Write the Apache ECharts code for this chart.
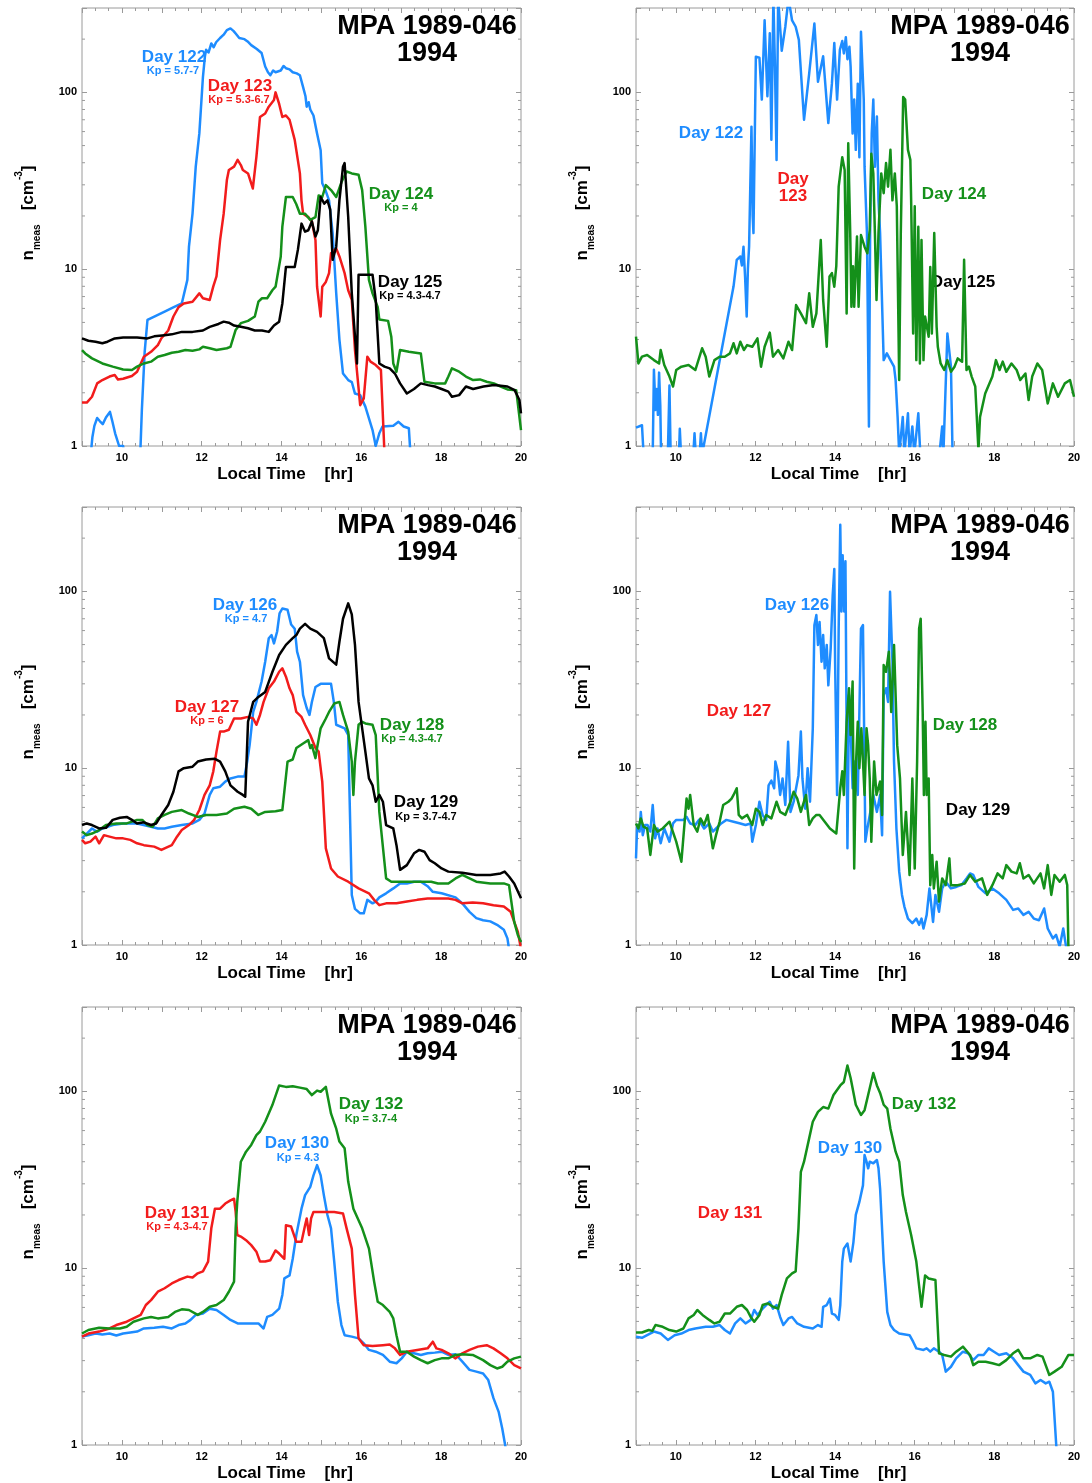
<!DOCTYPE html>
<html>
<head>
<meta charset="utf-8">
<script src="https://cdn.jsdelivr.net/npm/echarts@6/dist/echarts.min.js"></script>
<style>
  html, body { margin: 0; padding: 0; background: #ffffff; }
  #chart { width: 1092px; height: 1483px; }
</style>
</head>
<body>
<div id="chart"></div>
<script>
// ---- Axis settings ----
const X_MIN = 9, X_MAX = 20;
const Y_MIN = 1, Y_MAX = 300;
const Y_LABELS = [1, 10, 100];
const Y_MINOR_TICKS = [2, 3, 4, 5, 6, 7, 8, 9, 20, 30, 40, 50, 60, 70, 80, 90, 200];

// ---- Measured density [cm^-3] vs local time [hr], pairs [hour, n] ----
// Days 122-125, smoothed
const day122_smooth = [[9.22,0.9],[9.26,1.12],[9.31,1.3],[9.38,1.44],[9.45,1.38],[9.52,1.33],[9.6,1.45],[9.7,1.56],[9.76,1.38],[9.83,1.18],[9.93,1.0],[10.03,1.0],[10.06,0.9],[10.25,'-'],
  [10.46,0.9],[10.5,1.6],[10.57,3.4],[10.64,5.16],[10.85,5.45],[11.07,5.75],[11.3,6.1],[11.5,6.4],[11.64,8.7],[11.68,13.4],[11.77,20.7],[11.85,38],[11.94,58.6],[12.03,122],[12.08,160],[12.11,174],[12.17,168],[12.24,189],[12.3,180],[12.36,192],[12.46,203],[12.55,212],[12.63,225],[12.72,230],[12.8,222],[12.85,215],[12.94,203],[13.07,200],[13.15,194],[13.24,185],[13.38,176],[13.5,167],[13.59,140],[13.66,130],[13.72,125],[13.79,133],[13.85,130],[13.98,133],[14.05,141],[14.11,137],[14.2,135],[14.28,130],[14.38,128],[14.46,125],[14.54,107],[14.6,95],[14.63,83],[14.68,88],[14.72,80],[14.8,74],[14.89,58.6],[14.98,47],[15.02,30.6],[15.1,28],[15.19,24.5],[15.28,16],[15.37,7.3],[15.45,4],[15.54,2.57],[15.67,2.36],[15.76,2.3],[15.84,1.98],[15.97,1.94],[16.1,1.67],[16.28,1.23],[16.36,1.0],[16.45,1.18],[16.53,1.29],[16.8,1.3],[16.93,1.37],[17.06,1.29],[17.19,1.26],[17.23,0.9]];

const day123_smooth = [[9.0,1.76],[9.12,1.76],[9.25,1.9],[9.38,2.26],[9.51,2.36],[9.69,2.47],[9.82,2.52],[9.9,2.38],[10.03,2.4],[10.25,2.49],[10.38,2.63],[10.55,3.2],[10.73,3.41],[10.9,3.72],[10.99,4.07],[11.16,4.5],[11.29,5.4],[11.42,6.1],[11.55,6.4],[11.77,6.55],[11.94,7.3],[12.03,6.85],[12.2,6.7],[12.29,8.0],[12.37,9.1],[12.46,14.6],[12.55,20.6],[12.63,31.9],[12.68,36.4],[12.81,38],[12.9,41.5],[12.98,38.8],[13.03,36.4],[13.16,34.8],[13.28,28.6],[13.37,43.2],[13.46,72.6],[13.59,75.9],[13.68,83],[13.81,90.5],[13.85,100],[13.94,86],[14.02,72.6],[14.11,74],[14.2,70],[14.33,53.9],[14.46,34.8],[14.5,24.5],[14.54,20.6],[14.67,19.7],[14.76,18.6],[14.85,14.6],[14.89,7.96],[14.98,5.4],[15.02,7.96],[15.11,8.47],[15.19,9.5],[15.24,12.3],[15.37,13.1],[15.45,11.8],[15.58,9.5],[15.67,7.6],[15.76,6.7],[15.84,3.49],[15.97,1.7],[16.06,1.86],[16.15,3.2],[16.23,3.0],[16.36,2.87],[16.49,2.69],[16.58,0.9]];

const day124_smooth = [[9.0,3.49],[9.08,3.34],[9.25,3.13],[9.51,2.93],[9.77,2.81],[10.03,2.71],[10.25,2.69],[10.38,2.81],[10.55,2.93],[10.73,3.0],[10.9,3.2],[11.07,3.27],[11.25,3.37],[11.42,3.41],[11.59,3.49],[11.77,3.46],[11.94,3.52],[12.03,3.64],[12.2,3.57],[12.37,3.49],[12.63,3.57],[12.72,3.64],[12.85,4.53],[12.98,4.95],[13.16,5.1],[13.33,5.4],[13.42,6.55],[13.51,6.85],[13.64,6.85],[13.77,7.6],[13.85,7.96],[13.98,11.8],[14.02,17.4],[14.11,25.6],[14.28,25.6],[14.37,23.3],[14.46,20.6],[14.59,20.6],[14.72,19],[14.85,19.7],[14.93,26.1],[15.02,25.6],[15.11,29.9],[15.24,28],[15.37,25.6],[15.5,31],[15.63,35.7],[15.76,34.8],[15.93,34.2],[16.02,28],[16.1,17.4],[16.19,8.7],[16.28,7.3],[16.41,6.1],[16.45,5.2],[16.67,5.1],[16.75,4.15],[16.8,2.93],[16.88,2.63],[16.97,3.49],[17.19,3.41],[17.49,3.34],[17.58,2.31],[17.84,2.26],[18.1,2.26],[18.18,2.47],[18.27,2.75],[18.45,2.63],[18.62,2.47],[18.8,2.36],[18.97,2.38],[19.14,2.31],[19.32,2.26],[19.49,2.17],[19.66,2.09],[19.88,2.07],[20.0,1.23]];

const day125_smooth = [[9.0,4.06],[9.16,3.94],[9.34,3.89],[9.51,3.81],[9.64,3.89],[9.82,4.06],[10.03,4.11],[10.38,4.11],[10.64,4.06],[10.81,4.17],[11.07,4.23],[11.25,4.28],[11.5,4.42],[11.77,4.42],[12.03,4.5],[12.2,4.72],[12.42,4.9],[12.55,5.05],[12.68,4.98],[12.81,4.8],[12.98,4.72],[13.16,4.63],[13.33,4.5],[13.51,4.5],[13.68,4.42],[13.81,4.8],[13.94,5.05],[14.02,6.4],[14.11,10.3],[14.33,10.3],[14.41,12.9],[14.5,18.1],[14.59,16.3],[14.67,16.6],[14.76,18.6],[14.85,15.3],[14.91,16.6],[14.98,25.6],[15.07,23.5],[15.15,24.5],[15.22,21.7],[15.28,11.3],[15.37,13.4],[15.45,24.5],[15.54,38],[15.58,39.8],[15.67,19.8],[15.76,7.3],[15.89,2.93],[15.93,9.3],[16.28,9.3],[16.36,6.7],[16.45,2.93],[16.58,2.81],[16.71,2.75],[16.84,2.57],[16.97,2.26],[17.14,1.98],[17.32,2.1],[17.49,2.26],[17.67,2.21],[17.84,2.17],[18.01,2.1],[18.18,2.03],[18.27,1.9],[18.45,1.94],[18.62,2.17],[18.8,2.1],[19.06,2.17],[19.32,2.21],[19.49,2.19],[19.66,2.17],[19.84,2.07],[19.96,1.82],[20.0,1.53]];

// Days 122 and 124, full resolution
const day122_raw = [[9.0,1.27],[9.15,1.31],[9.19,0.9],[9.3,'-'],[9.42,0.9],[9.45,2.7],[9.49,1.6],[9.52,2.1],[9.55,1.5],[9.58,2.6],[9.61,1.7],[9.63,0.9],[9.7,'-'],[9.8,0.9],[9.84,2.2],[9.87,0.9],[9.95,'-'],[10.08,0.9],[10.1,1.25],[10.13,0.9],[10.3,'-'],[10.44,0.9],[10.47,1.18],[10.5,0.9],[10.55,'-'],[10.6,0.9],[10.63,1.18],[10.66,0.9],[10.7,1.0],
  [11.45,8.0],[11.53,11.3],[11.62,11.8],[11.66,10.5],[11.7,13.4],[11.74,9],[11.78,5.4],[11.81,10],[11.84,13.4],[11.88,38],[11.9,64],[11.93,20],[11.95,16],[12.01,159],[12.1,157],[12.16,91],[12.23,256],[12.3,95],[12.36,216],[12.4,54],[12.45,340],[12.49,140],[12.53,41.5],[12.57,340],[12.66,172],[12.75,235],[12.83,340],[12.92,255],[13.01,235],[13.09,198],[13.22,70],[13.35,128],[13.48,245],[13.57,115],[13.7,160],[13.83,67],[13.92,112],[13.98,190],[14.05,91],[14.12,174],[14.18,195],[14.22,166],[14.27,205],[14.31,154],[14.36,181],[14.39,140],[14.44,58.6],[14.48,91],[14.52,47.3],[14.57,112],[14.61,43],[14.65,220],[14.72,91],[14.74,38],[14.8,16],[14.85,1.29],[14.88,16],[14.92,58.6],[14.96,91],[15.0,38],[15.05,73],[15.09,24.5],[15.13,16],[15.22,3.06],[15.3,3.34],[15.39,3.06],[15.48,2.81],[15.52,2.36],[15.57,1.46],[15.61,0.9],[15.7,1.46],[15.74,0.9],[15.83,1.53],[15.87,0.9],[15.94,1.29],[15.99,0.9],[16.09,1.53],[16.14,0.9],[16.4,'-'],[16.62,0.9],[16.69,1.29],[16.72,0.9],[16.82,4.33],[16.91,2.81],[16.95,0.9]];

const day124_raw = [[9.0,4.15],[9.06,2.93],[9.15,3.2],[9.28,3.27],[9.45,3.06],[9.58,2.93],[9.62,3.49],[9.71,2.87],[9.84,2.47],[9.93,2.17],[10.01,2.69],[10.14,2.81],[10.32,2.87],[10.49,2.69],[10.66,3.57],[10.75,3.2],[10.84,2.47],[10.97,3.06],[11.1,3.2],[11.23,3.2],[11.36,3.34],[11.45,3.81],[11.53,3.34],[11.62,3.89],[11.71,3.49],[11.79,3.72],[11.92,3.64],[12.05,4.06],[12.14,2.81],[12.23,3.64],[12.36,4.38],[12.44,3.2],[12.57,3.49],[12.7,3.13],[12.83,3.89],[12.92,3.49],[13.02,6.27],[13.14,5.62],[13.27,4.95],[13.35,7.3],[13.44,4.72],[13.53,5.62],[13.64,14.6],[13.7,6.7],[13.79,3.64],[13.86,9.1],[13.92,9.5],[13.98,7.96],[14.03,10.4],[14.09,29.3],[14.18,43],[14.24,36.4],[14.29,5.62],[14.33,51.5],[14.38,16],[14.41,6.13],[14.45,10.4],[14.48,6.13],[14.55,15.3],[14.59,6.13],[14.65,15.6],[14.74,13.4],[14.81,12.3],[14.87,16.7],[14.91,44.9],[14.96,34.8],[15.0,16],[15.04,6.7],[15.09,16],[15.16,34.8],[15.22,26.9],[15.28,39.8],[15.33,29.3],[15.39,47.3],[15.44,24.5],[15.5,34.8],[15.55,22.7],[15.61,2.36],[15.65,16],[15.71,94],[15.76,91],[15.83,47.3],[15.89,41.5],[15.91,24.5],[15.96,4.33],[16.0,22.7],[16.04,3.06],[16.09,17.4],[16.13,2.93],[16.17,14.6],[16.22,3.06],[16.26,5.4],[16.35,4.15],[16.39,10.3],[16.43,4.33],[16.49,16],[16.55,4.72],[16.58,3.64],[16.65,2.93],[16.74,2.69],[16.82,3.06],[16.91,2.63],[17.0,2.81],[17.08,3.13],[17.19,3.0],[17.24,11.3],[17.3,2.69],[17.36,2.81],[17.43,2.47],[17.52,2.17],[17.6,0.95],[17.64,1.46],[17.77,1.98],[17.95,2.47],[18.04,3.06],[18.13,2.69],[18.21,3.0],[18.3,2.63],[18.43,2.93],[18.56,2.69],[18.65,2.36],[18.78,2.57],[18.86,1.82],[18.95,2.47],[19.08,2.93],[19.2,2.69],[19.34,1.74],[19.47,2.26],[19.6,1.9],[19.77,2.26],[19.9,2.36],[20.0,1.9]];

// Days 126-129, smoothed
const day126_smooth = [[9.0,4.01],[9.12,4.27],[9.25,4.56],[9.38,4.37],[9.51,4.56],[9.77,4.77],[10.03,4.87],[10.38,4.87],[10.73,4.66],[10.9,4.56],[11.07,4.56],[11.25,4.66],[11.5,4.77],[11.77,4.87],[11.94,5.1],[12.07,5.54],[12.2,7.06],[12.29,7.7],[12.46,7.86],[12.59,8.4],[12.72,8.75],[12.9,8.96],[13.07,8.96],[13.14,10.9],[13.2,13.5],[13.29,20.8],[13.37,23.7],[13.5,30.9],[13.59,40],[13.68,54.3],[13.75,56.6],[13.81,50.8],[13.89,59.3],[13.95,75.1],[14.02,80],[14.15,78.7],[14.24,65],[14.33,61.5],[14.39,45.6],[14.46,40],[14.54,25.9],[14.63,21.9],[14.7,20],[14.76,23.7],[14.85,28.8],[14.98,30],[15.24,30],[15.31,23.7],[15.37,17.6],[15.58,16.8],[15.67,15.4],[15.76,1.92],[15.84,1.6],[15.97,1.51],[16.06,1.51],[16.15,1.8],[16.28,1.72],[16.36,1.76],[16.45,1.86],[16.62,1.96],[16.8,2.09],[16.97,2.23],[17.14,2.23],[17.32,2.28],[17.49,2.28],[17.66,2.15],[17.79,2.0],[18.01,1.96],[18.36,1.86],[18.53,1.72],[18.71,1.54],[18.88,1.42],[19.05,1.38],[19.23,1.36],[19.4,1.3],[19.57,1.22],[19.66,1.09],[19.7,0.95]];

const day127_smooth = [[9.0,3.93],[9.08,3.76],[9.21,3.84],[9.34,4.1],[9.43,3.76],[9.55,4.18],[9.69,4.1],[9.86,4.01],[10.03,4.01],[10.21,3.93],[10.38,3.76],[10.55,3.67],[10.81,3.6],[10.99,3.45],[11.07,3.52],[11.25,3.67],[11.38,4.1],[11.5,4.47],[11.68,4.77],[11.81,5.1],[11.94,5.8],[12.07,7.06],[12.2,8.0],[12.29,9.6],[12.37,12.4],[12.46,16.1],[12.55,16.1],[12.68,16.5],[12.81,19.1],[12.98,19.1],[13.16,19.5],[13.29,19.1],[13.37,17.6],[13.46,20],[13.55,23.7],[13.68,28.3],[13.81,30.9],[13.94,35.1],[14.02,36.7],[14.11,32.9],[14.2,28.3],[14.28,25.9],[14.37,20.8],[14.5,19.5],[14.59,17.6],[14.72,15.4],[14.85,13],[14.93,12.4],[15.02,8.4],[15.11,3.52],[15.24,2.71],[15.41,2.44],[15.67,2.28],[15.93,2.09],[16.19,1.96],[16.32,1.8],[16.45,1.68],[16.62,1.72],[16.88,1.72],[17.14,1.76],[17.4,1.8],[17.66,1.83],[17.92,1.83],[18.18,1.83],[18.36,1.8],[18.53,1.72],[18.79,1.74],[19.05,1.72],[19.31,1.68],[19.57,1.65],[19.74,1.54],[19.92,1.19],[20.0,0.95]];

const day128_smooth = [[9.0,4.38],[9.12,4.18],[9.25,4.27],[9.43,4.47],[9.6,4.77],[9.86,4.87],[10.12,4.87],[10.38,5.1],[10.51,5.1],[10.64,4.77],[10.77,4.66],[10.9,5.2],[11.07,5.44],[11.25,5.66],[11.5,5.8],[11.68,5.54],[11.9,5.3],[12.11,5.44],[12.37,5.44],[12.63,5.54],[12.81,5.9],[13.07,6.05],[13.24,5.9],[13.42,5.44],[13.59,5.66],[13.85,5.7],[14.02,5.8],[14.15,10.9],[14.28,11.2],[14.37,13],[14.54,13.8],[14.67,14.4],[14.72,13],[14.76,13.5],[14.85,11.4],[14.89,13],[14.98,16.8],[15.11,19.1],[15.19,20.8],[15.32,23.2],[15.45,23.7],[15.54,20],[15.67,16.1],[15.76,10.9],[15.8,7.06],[15.84,10.9],[15.93,17.6],[16.02,18.3],[16.1,17.9],[16.28,17.6],[16.36,15.4],[16.45,5.66],[16.62,2.38],[16.75,2.28],[16.97,2.28],[17.32,2.28],[17.75,2.28],[17.92,2.23],[18.18,2.23],[18.36,2.38],[18.53,2.49],[18.71,2.38],[18.88,2.28],[19.23,2.23],[19.57,2.23],[19.7,2.18],[19.83,1.35],[19.92,1.14],[20.0,1.04]];

const day129_smooth = [[9.0,4.77],[9.12,4.87],[9.25,4.77],[9.43,4.56],[9.6,4.6],[9.77,5.1],[9.95,5.24],[10.12,5.3],[10.25,5.1],[10.38,4.87],[10.55,4.94],[10.73,4.77],[10.86,4.87],[10.99,5.44],[11.16,6.19],[11.29,7.36],[11.42,9.6],[11.55,10],[11.77,10.2],[11.9,10.9],[12.11,11.2],[12.33,11.3],[12.46,10.9],[12.59,9.6],[12.72,8.0],[12.9,7.36],[13.03,7.06],[13.09,6.9],[13.16,18.3],[13.29,23.7],[13.42,25.3],[13.59,27],[13.77,35],[13.94,43.7],[14.11,49.8],[14.28,54.4],[14.37,56.6],[14.46,61.5],[14.59,65.5],[14.72,61.5],[14.89,59],[15.06,54.4],[15.19,41.8],[15.37,38.5],[15.45,51.9],[15.54,70],[15.67,85.5],[15.76,74],[15.84,49.8],[15.93,23.7],[16.02,16.8],[16.1,12.4],[16.19,8.75],[16.28,8.0],[16.36,6.46],[16.45,7.06],[16.54,6.46],[16.62,4.77],[16.8,4.56],[16.88,3.67],[16.97,2.66],[17.14,2.83],[17.32,3.3],[17.45,3.45],[17.58,3.37],[17.71,3.02],[17.84,2.9],[18.01,2.71],[18.18,2.6],[18.53,2.56],[18.88,2.49],[19.23,2.49],[19.49,2.54],[19.59,2.6],[19.7,2.44],[19.83,2.23],[20.0,1.84]];

// Days 126 and 128, full resolution
const day126_raw = [[9.0,3.09],[9.03,4.77],[9.09,4.38],[9.12,5.66],[9.17,4.18],[9.23,4.77],[9.29,4.77],[9.36,4.38],[9.42,6.19],[9.48,4.01],[9.54,4.56],[9.62,3.76],[9.71,4.56],[9.84,3.84],[9.93,4.87],[10.01,5.1],[10.1,5.1],[10.19,5.1],[10.27,5.3],[10.36,4.87],[10.49,4.77],[10.58,5.1],[10.71,4.56],[10.84,4.87],[10.93,4.38],[11.01,4.56],[11.14,4.87],[11.27,5.1],[11.45,4.98],[11.62,4.87],[11.75,4.77],[11.88,4.87],[11.92,3.84],[12.01,4.77],[12.1,6.46],[12.18,5.44],[12.27,5.1],[12.33,8.0],[12.4,8.5],[12.47,7.7],[12.5,10.9],[12.56,9.6],[12.62,7.06],[12.68,8.75],[12.75,6.19],[12.82,14.1],[12.88,5.66],[12.96,6.46],[13.02,7.7],[13.08,9.1],[13.14,16.1],[13.18,8.75],[13.25,5.9],[13.31,10],[13.37,6.46],[13.44,16.8],[13.48,64.4],[13.53,73.5],[13.57,49.8],[13.61,67],[13.66,40],[13.7,56.6],[13.74,36.7],[13.79,49.8],[13.83,29.4],[13.89,47.8],[13.94,95.3],[13.98,134],[14.0,40],[14.05,7.06],[14.09,61.5],[14.13,238],[14.16,77],[14.19,160],[14.23,77],[14.26,148],[14.31,3.52],[14.35,25.9],[14.39,16.8],[14.44,7.7],[14.48,10.9],[14.57,7.06],[14.65,61.5],[14.7,64.4],[14.76,3.84],[14.81,4.56],[14.9,5.9],[14.96,7.06],[15.05,5.66],[15.13,7.06],[15.18,4.18],[15.22,25.9],[15.28,28.3],[15.33,23.7],[15.38,99.5],[15.44,40],[15.48,10.9],[15.54,4.56],[15.61,2.6],[15.68,1.92],[15.74,1.65],[15.83,1.41],[15.94,1.33],[16.04,1.41],[16.11,1.3],[16.17,1.41],[16.22,1.24],[16.3,1.48],[16.37,2.09],[16.46,1.35],[16.52,1.92],[16.61,1.54],[16.69,2.09],[16.78,2.28],[16.91,2.09],[17.04,2.13],[17.17,2.18],[17.3,2.38],[17.39,2.54],[17.47,2.49],[17.6,2.13],[17.78,1.96],[17.95,2.09],[18.12,1.96],[18.3,1.8],[18.47,1.58],[18.6,1.61],[18.73,1.48],[18.86,1.54],[18.99,1.41],[19.12,1.38],[19.25,1.61],[19.34,1.24],[19.47,1.09],[19.55,1.14],[19.64,0.98],[19.73,1.24],[19.81,0.95]];

const day128_raw = [[9.0,4.87],[9.06,4.56],[9.12,5.2],[9.19,4.66],[9.28,4.56],[9.36,3.23],[9.45,4.77],[9.54,4.38],[9.67,4.56],[9.84,4.98],[10.01,3.84],[10.14,2.96],[10.27,6.73],[10.32,5.9],[10.36,7.06],[10.45,4.77],[10.54,4.38],[10.62,5.2],[10.71,4.77],[10.8,5.44],[10.88,4.18],[10.93,3.52],[11.01,4.18],[11.1,4.98],[11.19,6.19],[11.32,6.46],[11.4,6.73],[11.45,7.06],[11.53,7.7],[11.58,5.44],[11.66,5.2],[11.79,5.44],[11.92,4.77],[12.01,5.9],[12.1,5.66],[12.18,4.77],[12.27,5.44],[12.4,5.2],[12.53,6.46],[12.62,5.66],[12.75,5.44],[12.88,6.46],[12.96,7.36],[13.05,6.73],[13.14,5.66],[13.27,7.06],[13.35,4.77],[13.44,5.2],[13.53,5.44],[13.61,5.44],[13.74,4.98],[13.87,4.56],[14.03,4.27],[14.13,7.7],[14.18,9.6],[14.22,7.06],[14.29,18.3],[14.35,28.3],[14.39,15.4],[14.44,30.9],[14.48,2.71],[14.52,10],[14.57,18.3],[14.61,10],[14.66,16.8],[14.7,10.9],[14.74,7.06],[14.79,16.8],[14.83,13.5],[14.87,8.75],[14.91,3.84],[14.98,10.9],[15.04,7.06],[15.13,8.4],[15.18,5.44],[15.22,38.3],[15.28,35.1],[15.35,45.6],[15.41,20.8],[15.48,49.8],[15.56,13.5],[15.63,8.75],[15.7,3.23],[15.78,5.66],[15.87,2.49],[15.94,8.75],[16.0,2.71],[16.06,10.9],[16.11,61.5],[16.15,70],[16.2,20.8],[16.23,7.06],[16.27,18.3],[16.3,7.06],[16.35,8.75],[16.39,2.18],[16.44,3.23],[16.48,2.09],[16.55,2.96],[16.61,1.76],[16.69,2.38],[16.78,2.18],[16.87,3.09],[16.91,2.18],[17.08,2.18],[17.26,2.23],[17.39,2.49],[17.52,2.28],[17.69,2.38],[17.82,1.92],[17.95,2.18],[18.08,2.54],[18.21,2.38],[18.3,2.83],[18.43,2.6],[18.56,2.54],[18.64,2.9],[18.73,2.38],[18.86,2.49],[18.99,2.23],[19.16,2.54],[19.25,2.09],[19.34,2.83],[19.43,1.92],[19.51,2.49],[19.64,2.28],[19.77,2.49],[19.83,2.18],[19.86,0.95]];

// Days 130-132, smoothed
const day130_smooth = [[9.0,4.1],[9.16,4.18],[9.34,4.27],[9.51,4.22],[9.69,4.27],[9.86,4.16],[10.03,4.27],[10.21,4.33],[10.38,4.38],[10.55,4.56],[10.81,4.6],[11.03,4.66],[11.25,4.56],[11.42,4.77],[11.59,4.87],[11.72,5.1],[11.85,5.44],[12.03,5.54],[12.2,5.9],[12.37,5.8],[12.55,5.44],[12.72,5.1],[12.9,4.87],[13.16,4.87],[13.42,4.87],[13.55,4.56],[13.64,5.3],[13.77,5.44],[13.94,5.9],[14.02,7.06],[14.07,8.75],[14.2,9.1],[14.28,11.3],[14.37,15.4],[14.5,21.7],[14.59,25.9],[14.72,28.8],[14.8,33.5],[14.89,38.3],[14.98,33.5],[15.06,25.9],[15.15,20],[15.24,16.8],[15.32,10.9],[15.41,6.46],[15.5,4.77],[15.58,4.18],[15.76,4.1],[15.93,4.01],[16.06,3.76],[16.19,3.45],[16.36,3.37],[16.54,3.23],[16.71,2.96],[16.88,2.9],[17.01,3.09],[17.14,3.37],[17.32,3.3],[17.49,3.23],[17.66,3.3],[17.84,3.33],[18.01,3.37],[18.18,3.23],[18.36,3.26],[18.53,2.96],[18.71,2.66],[18.88,2.6],[19.05,2.54],[19.18,2.33],[19.31,1.84],[19.44,1.54],[19.53,1.24],[19.62,0.95]];

const day131_smooth = [[9.0,4.1],[9.16,4.27],[9.43,4.38],[9.69,4.56],[9.86,4.77],[10.12,4.98],[10.29,5.2],[10.47,5.44],[10.6,6.19],[10.73,6.6],[10.9,7.36],[11.07,7.7],[11.25,8.2],[11.42,8.57],[11.64,8.96],[11.77,8.85],[11.9,9.35],[12.03,9.6],[12.16,10.9],[12.24,16.8],[12.33,21.7],[12.46,21.7],[12.59,23.2],[12.72,24.2],[12.81,24.7],[12.85,20.8],[12.89,15.4],[12.98,15.1],[13.11,14.4],[13.24,13.5],[13.37,12.4],[13.46,10.9],[13.59,10.9],[13.72,11.1],[13.85,12.6],[13.94,12.1],[14.07,11.3],[14.11,17.5],[14.24,17.2],[14.37,14.1],[14.5,14.1],[14.59,17.5],[14.63,19.1],[14.69,15.4],[14.74,19.1],[14.8,20.8],[15.06,20.8],[15.32,20.8],[15.54,20.4],[15.63,16.8],[15.76,12.9],[15.84,7.06],[15.93,4.01],[16.06,3.67],[16.28,3.63],[16.54,3.67],[16.71,3.7],[16.84,3.52],[16.97,3.23],[17.14,3.37],[17.4,3.45],[17.66,3.52],[17.79,3.84],[17.88,3.52],[18.01,3.45],[18.18,3.3],[18.36,3.09],[18.53,3.3],[18.71,3.45],[18.92,3.6],[19.14,3.67],[19.31,3.52],[19.49,3.3],[19.66,3.09],[19.83,2.83],[20.0,2.71]];

const day132_smooth = [[9.0,4.27],[9.16,4.47],[9.43,4.6],[9.69,4.56],[9.95,4.56],[10.12,4.66],[10.29,4.98],[10.55,5.2],[10.73,5.3],[10.9,5.2],[11.16,5.3],[11.33,5.66],[11.5,5.85],[11.68,5.8],[11.9,5.44],[12.03,5.66],[12.2,6.05],[12.37,6.19],[12.55,6.6],[12.68,7.36],[12.81,8.4],[12.85,16.8],[12.89,23.7],[12.98,40],[13.11,45.6],[13.24,49.8],[13.37,56.6],[13.46,59.3],[13.59,67.3],[13.77,83.6],[13.94,108],[14.11,106],[14.28,107],[14.46,105],[14.63,103],[14.76,95.3],[14.89,101],[14.98,99.5],[15.11,106],[15.24,74.8],[15.37,61.5],[15.45,52],[15.58,47.7],[15.67,30.9],[15.8,21.7],[16.02,16.8],[16.19,12.9],[16.32,8.4],[16.41,6.46],[16.54,6.19],[16.71,5.66],[16.8,5.2],[16.88,4.18],[16.97,3.37],[17.14,3.37],[17.32,3.16],[17.49,3.02],[17.66,2.9],[17.84,3.02],[18.01,3.09],[18.18,3.09],[18.36,3.23],[18.53,3.26],[18.79,3.23],[19.05,3.02],[19.23,2.83],[19.4,2.71],[19.53,2.77],[19.66,2.96],[19.83,3.09],[20.0,3.16]];

// Days 130 and 132, full resolution
const day130_raw = [[9.0,4.1],[9.15,4.04],[9.28,4.18],[9.45,4.38],[9.62,4.27],[9.8,3.93],[9.97,4.18],[10.14,4.27],[10.32,4.47],[10.49,4.56],[10.75,4.66],[10.93,4.66],[11.1,4.77],[11.23,4.47],[11.36,4.27],[11.49,4.87],[11.62,5.2],[11.75,4.87],[11.88,5.1],[11.97,5.8],[12.05,5.44],[12.18,5.9],[12.27,6.19],[12.36,6.46],[12.44,5.9],[12.53,6.19],[12.62,5.3],[12.7,4.77],[12.83,5.2],[12.92,5.3],[13.05,4.87],[13.22,4.66],[13.44,4.56],[13.57,4.77],[13.66,4.66],[13.7,6.05],[13.79,6.19],[13.87,6.73],[13.92,5.54],[14.0,5.44],[14.09,5.1],[14.13,6.19],[14.18,10.9],[14.22,12.9],[14.31,13.8],[14.39,10.9],[14.46,14],[14.52,20],[14.61,23.7],[14.7,29.4],[14.74,43.6],[14.79,40],[14.83,36.7],[14.87,40],[14.96,39.2],[15.05,40.9],[15.09,36.7],[15.13,28.3],[15.22,10.9],[15.31,5.66],[15.39,4.77],[15.48,4.47],[15.61,4.27],[15.87,4.18],[15.96,3.84],[16.04,3.52],[16.22,3.45],[16.3,3.52],[16.39,3.37],[16.48,3.52],[16.61,3.37],[16.69,3.23],[16.78,2.6],[16.91,2.77],[17.04,3.09],[17.21,3.37],[17.34,3.3],[17.47,3.02],[17.6,3.23],[17.73,3.23],[17.86,3.52],[17.99,3.37],[18.12,3.23],[18.3,3.3],[18.47,3.09],[18.6,2.83],[18.73,2.6],[18.9,2.49],[19.03,2.23],[19.16,2.33],[19.29,2.23],[19.38,2.28],[19.47,2.0],[19.56,0.95]];

const day132_raw = [[9.0,4.33],[9.15,4.33],[9.32,4.47],[9.41,4.42],[9.49,4.77],[9.67,4.66],[9.84,4.47],[10.01,4.38],[10.19,4.56],[10.32,5.2],[10.45,5.44],[10.54,5.8],[10.67,5.44],[10.84,5.1],[10.97,4.87],[11.1,4.98],[11.23,5.54],[11.36,5.54],[11.53,6.05],[11.66,6.19],[11.79,5.8],[11.88,5.3],[11.97,4.98],[12.1,5.44],[12.18,6.19],[12.31,6.32],[12.44,6.05],[12.57,5.9],[12.66,7.06],[12.79,8.75],[12.92,9.35],[13.01,9.6],[13.08,16.8],[13.14,35.1],[13.22,40],[13.35,54.4],[13.44,67.3],[13.57,76.6],[13.7,81.5],[13.83,79.9],[13.96,95.3],[14.13,108],[14.22,113],[14.31,140],[14.39,119],[14.52,84],[14.65,73.5],[14.74,78.3],[14.83,95.3],[14.96,127],[15.05,108],[15.13,98],[15.22,84],[15.31,79.9],[15.39,61.5],[15.52,45.6],[15.61,40],[15.7,25.9],[15.78,20.8],[15.91,15.4],[16.04,10.9],[16.17,6.05],[16.26,9.1],[16.35,8.75],[16.52,8.57],[16.61,3.3],[16.74,3.23],[16.91,3.16],[17.04,3.37],[17.21,3.6],[17.39,3.23],[17.47,2.83],[17.6,2.96],[17.78,2.96],[17.95,2.9],[18.12,2.83],[18.3,3.02],[18.47,3.3],[18.6,3.45],[18.73,3.09],[18.9,3.09],[19.08,3.23],[19.21,3.16],[19.38,2.49],[19.51,2.6],[19.69,2.77],[19.86,3.23],[20.0,3.23]];

// ---- Styling ----
const FONT = '"Liberation Sans", Arial, Helvetica, sans-serif';
const COLORS = { blue: '#1E8CFF', red: '#F21C1C', green: '#14901A', black: '#000000' };
const FRAME = '#9a9a9a';

// panel layout: [left, top, width, height]
const BOXES = [
  [82, 8, 439, 438], [636, 8, 438, 438],
  [82, 507, 439, 438], [636, 507, 438, 438],
  [82, 1007, 439, 438], [636, 1007, 438, 438]
];

const PANEL_LINES = [
  [[day122_smooth, 'blue'], [day123_smooth, 'red'], [day124_smooth, 'green'], [day125_smooth, 'black']],
  [[day122_raw, 'blue'], [day124_raw, 'green']],
  [[day126_smooth, 'blue'], [day127_smooth, 'red'], [day128_smooth, 'green'], [day129_smooth, 'black']],
  [[day126_raw, 'blue'], [day128_raw, 'green']],
  [[day130_smooth, 'blue'], [day131_smooth, 'red'], [day132_smooth, 'green']],
  [[day130_raw, 'blue'], [day132_raw, 'green']]
];

// annotation text: [text, colour, centre x, centre y, size]
const NOTES = [
  ['Day 122', 'blue', 174, 57, 'L'], ['Kp = 5.7-7', 'blue', 173, 71, 'S'],
  ['Day 123', 'red', 240, 86, 'L'], ['Kp = 5.3-6.7', 'red', 239, 100, 'S'],
  ['Day 124', 'green', 401, 194, 'L'], ['Kp = 4', 'green', 401, 208, 'S'],
  ['Day 125', 'black', 410, 282, 'L'], ['Kp = 4.3-4.7', 'black', 410, 296, 'S'],
  ['Day 122', 'blue', 711, 133, 'L'], ['Day', 'red', 793, 179, 'L'], ['123', 'red', 793, 196, 'L'],
  ['Day 124', 'green', 954, 194, 'L'], ['Day 125', 'black', 963, 282, 'L'],
  ['Day 126', 'blue', 245, 605, 'L'], ['Kp = 4.7', 'blue', 246, 619, 'S'],
  ['Day 127', 'red', 207, 707, 'L'], ['Kp = 6', 'red', 207, 721, 'S'],
  ['Day 128', 'green', 412, 725, 'L'], ['Kp = 4.3-4.7', 'green', 412, 739, 'S'],
  ['Day 129', 'black', 426, 802, 'L'], ['Kp = 3.7-4.7', 'black', 426, 817, 'S'],
  ['Day 126', 'blue', 797, 605, 'L'], ['Day 127', 'red', 739, 711, 'L'],
  ['Day 128', 'green', 965, 725, 'L'], ['Day 129', 'black', 978, 810, 'L'],
  ['Day 132', 'green', 371, 1104, 'L'], ['Kp = 3.7-4', 'green', 371, 1119, 'S'],
  ['Day 130', 'blue', 297, 1143, 'L'], ['Kp = 4.3', 'blue', 298, 1158, 'S'],
  ['Day 131', 'red', 177, 1213, 'L'], ['Kp = 4.3-4.7', 'red', 177, 1227, 'S'],
  ['Day 132', 'green', 924, 1104, 'L'], ['Day 130', 'blue', 850, 1148, 'L'], ['Day 131', 'red', 730, 1213, 'L']
];

const TITLE_LINES = ['MPA 1989-046', '1994'];

const chart = echarts.init(document.getElementById('chart'), null, { renderer: 'canvas' });

const grids = [], xAxes = [], yAxes = [], series = [], graphics = [];

const tickStyle = { color: FRAME, width: 1 };

BOXES.forEach((b, i) => {
  grids.push({
    left: b[0], top: b[1], width: b[2], height: b[3],
    show: true, borderColor: FRAME, borderWidth: 1, backgroundColor: 'transparent',
    containLabel: false, outerBoundsMode: 'none'
  });
  const xCommon = {
    gridIndex: i, type: 'value', min: X_MIN, max: X_MAX, interval: 1,
    axisLine: { show: false }, splitLine: { show: false },
    axisTick: { show: true, inside: true, length: 5, lineStyle: tickStyle },
    minorTick: { show: true, splitNumber: 3, length: 3, lineStyle: tickStyle }
  };
  xAxes.push(Object.assign({}, xCommon, {
    position: 'bottom',
    axisLabel: {
      interval: 0, margin: 6, color: '#000', fontSize: 11, fontWeight: 'bold', fontFamily: FONT,
      formatter: v => (v % 2 === 0 ? String(v) : '')
    },
    name: 'Local Time    [hr]', nameLocation: 'middle', nameGap: 20, nameMoveOverlap: false,
    nameTextStyle: { color: '#000', fontSize: 17, fontWeight: 'bold', fontFamily: FONT, padding: [0, 33, 0, 0] }
  }));
  xAxes.push(Object.assign({}, xCommon, { position: 'top', axisLabel: { show: false } }));

  const yCommon = {
    gridIndex: i, type: 'log', logBase: 10, min: Y_MIN, max: Y_MAX,
    axisLine: { show: false }, splitLine: { show: false },
    axisTick: { show: true, inside: true, length: 5, lineStyle: tickStyle },
    minorTick: { show: false }
  };
  yAxes.push(Object.assign({}, yCommon, {
    position: 'left',
    axisLabel: {
      margin: 5, color: '#000', fontSize: 11, fontWeight: 'bold', fontFamily: FONT,
      formatter: v => (Y_LABELS.indexOf(Math.round(v)) >= 0 && Math.abs(v - Math.round(v)) < 1e-6 ? String(Math.round(v)) : '')
    },
    name: '{n|n}{sub|meas}{sp|   }{t|[cm}{sup|-3}{t|]}',
    nameLocation: 'middle', nameRotate: 90, nameGap: 40, nameMoveOverlap: false,
    nameTextStyle: {
      color: '#000', fontFamily: FONT, padding: [0, 0, 0, 28],
      rich: {
        n: { fontSize: 17, fontWeight: 'bold', fontFamily: FONT, lineHeight: 28, verticalAlign: 'middle', color: '#000' },
        sub: { fontSize: 10, fontWeight: 'bold', fontFamily: FONT, lineHeight: 12, verticalAlign: 'bottom', color: '#000' },
        sp: { fontSize: 17, fontFamily: FONT, lineHeight: 28 },
        t: { fontSize: 17, fontWeight: 'bold', fontFamily: FONT, lineHeight: 28, verticalAlign: 'middle', color: '#000' },
        sup: { fontSize: 10, fontWeight: 'bold', fontFamily: FONT, lineHeight: 12, verticalAlign: 'top', color: '#000' }
      }
    }
  }));
  yAxes.push(Object.assign({}, yCommon, { position: 'right', axisLabel: { show: false } }));

  // minor log ticks on both vertical edges
  series.push({
    type: 'custom', xAxisIndex: 2 * i, yAxisIndex: 2 * i, silent: true, clip: false, z: 1,
    data: Y_MINOR_TICKS.map(v => [X_MIN, v]),
    encode: { x: 0, y: 1 },
    renderItem: (params, api) => {
      const p = api.coord([api.value(0), api.value(1)]);
      const cs = params.coordSys;
      return {
        type: 'group',
        children: [
          { type: 'line', shape: { x1: cs.x, y1: p[1], x2: cs.x + 3, y2: p[1] }, style: { stroke: FRAME, lineWidth: 1 } },
          { type: 'line', shape: { x1: cs.x + cs.width - 3, y1: p[1], x2: cs.x + cs.width, y2: p[1] }, style: { stroke: FRAME, lineWidth: 1 } }
        ]
      };
    }
  });

  PANEL_LINES[i].forEach(([data, c], k) => {
    series.push({
      type: 'line', xAxisIndex: 2 * i, yAxisIndex: 2 * i, data: data,
      symbol: 'none', showSymbol: false, smooth: false, connectNulls: false, clip: true,
      z: 3 + k,
      lineStyle: { color: COLORS[c], width: 2.5, join: 'round' },
      emphasis: { disabled: true }
    });
  });

  // panel heading
  const cx = b[0] + b[2] - 94;
  TITLE_LINES.forEach((t, j) => {
    graphics.push({
      type: 'text', x: cx, y: b[1] + 19 + j * 27, z: 10, silent: true,
      style: { text: t, fill: '#000', font: 'bold 27px ' + FONT, align: 'center', verticalAlign: 'middle' }
    });
  });
});

NOTES.forEach(([t, c, x, y, s]) => {
  graphics.push({
    type: 'text', x: x, y: y, z: 1, silent: true,
    style: {
      text: t, fill: COLORS[c], align: 'center', verticalAlign: 'middle',
      font: (s === 'L' ? 'bold 17px ' : 'bold 11px ') + FONT
    }
  });
});

chart.setOption({
  backgroundColor: '#ffffff',
  animation: false,
  grid: grids,
  xAxis: xAxes,
  yAxis: yAxes,
  series: series,
  graphic: graphics
});
</script>
</body>
</html>
